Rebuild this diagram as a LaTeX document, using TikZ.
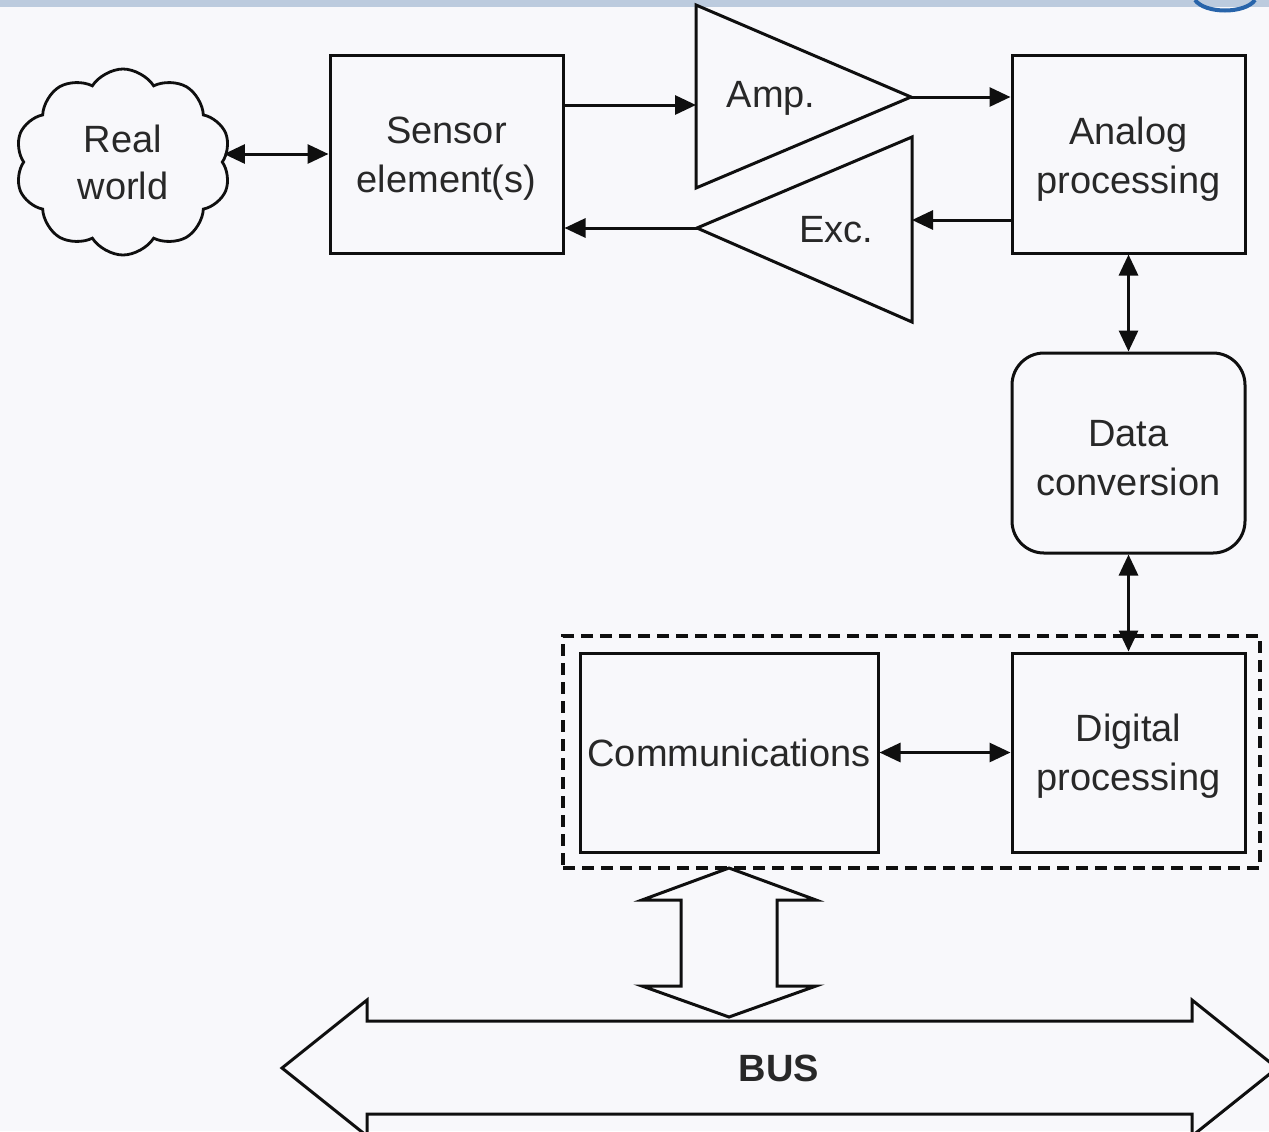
\documentclass[tikz,border=0pt]{standalone}
\usepackage{fontspec}
\setmainfont{Liberation Sans}
\usetikzlibrary{arrows.meta,shapes.symbols,calc}
\definecolor{ink}{RGB}{15,15,15}
\definecolor{txt}{RGB}{40,40,40}
\definecolor{bgc}{RGB}{248,248,251}
\definecolor{stripc}{RGB}{188,203,222}
\definecolor{logoc}{RGB}{40,100,170}
\begin{document}
\begin{tikzpicture}[x=0.5pt,y=-0.5pt,
  >={Triangle[length=10.5pt,width=9.5pt]},
  every node/.style={font=\fontsize{19}{24.5}\selectfont, text=txt, align=center},
  box/.style={draw=ink, line width=1.5pt},
  conn/.style={draw=ink, line width=1.5pt},
  grpbox/.style={draw=ink, line width=1.7pt, dash pattern=on 6pt off 3.5pt},
  shapeline/.style={draw=ink, line width=1.5pt, line join=miter}]
\fill[bgc] (0,0) rectangle (1269,1131);
\useasboundingbox (0,0) rectangle (1269,1131);
\fill[stripc] (0,0) rectangle (1269,7);
\draw[logoc, line width=2pt] (1195,0) .. controls (1205,14) and (1245,14) .. (1255,0);

% boxes
\node[box, minimum width=116.5pt, minimum height=99pt] (sensor) at (446.5,154) {};
\node (sensortext) at (446.5,159) {Sensor\\element(s)};
\node[box, minimum width=116.5pt, minimum height=99pt] (analog) at (1128.5,154) {};
\node (analogtext) at (1128.5,159) {Analog\\processing};
\node[box, rounded corners=16pt, minimum width=116.5pt, minimum height=100pt] (data) at (1128.5,453) {};
\node (datatext) at (1128.5,458) {Data\\conversion};
\node[box, minimum width=116.5pt, minimum height=99.5pt] (digital) at (1128.5,752.5) {};
\node (digitaltext) at (1128.5,756) {Digital\\processing};
\node[box, minimum width=149pt, minimum height=99.5pt, inner sep=0pt] (comm) at (729,752.5) {Communications};
\node[grpbox, minimum width=348.5pt, minimum height=116pt] (group) at (911.5,752) {};
\node[draw=ink, line width=1.4pt, cloud, cloud puffs=10, cloud puff arc=115, minimum width=108pt, minimum height=93pt, inner sep=0pt, font=\fontsize{19}{23.5}\selectfont] (cloud) at (123,162) {Real\\world};

% amplifier and excitation triangles
\draw[shapeline] (696,5) -- (911,97) -- (696,188) -- cycle;
\node (amptext) at (771,98) {Amp.};
\draw[shapeline] (912,137) -- (697,228) -- (912,322) -- cycle;
\node (exctext) at (836,230) {Exc.};
\coordinate (ampin) at (696,105);
\coordinate (ampout) at (911,97);
\coordinate (excin) at (912,220);
\coordinate (excout) at (697,228);

% connectors
\draw[conn,<->] (cloud.east |- sensor.west) -- (sensor.west);
\draw[conn,->] (sensor.east |- ampin) -- (ampin);
\draw[conn,->] (ampout) -- (analog.west |- ampout);
\draw[conn,->] (analog.west |- excin) -- (excin);
\draw[conn,->] (excout) -- (sensor.east |- excout);
\draw[conn,<->] (analog.south) -- (data.north);
\draw[conn,<->] (data.south) -- (digital.north);
\draw[conn,<->] (comm.east) -- (digital.west);

% block arrow to bus
\draw[shapeline] (729,868) -- (816,900) -- (777,900) -- (777,986) -- (816,986)
  -- (729,1017) -- (642,986) -- (681,986) -- (681,900) -- (642,900) -- cycle;

% bus
\draw[shapeline] (282,1068) -- (367,1000) -- (367,1021) -- (1192,1021) -- (1192,1000)
  -- (1277,1068) -- (1192,1136) -- (1192,1114) -- (367,1114) -- (367,1136) -- cycle;
\node[font=\fontsize{19}{23.5}\selectfont\bfseries] (bus) at (779,1068) {BUS};
\end{tikzpicture}
\end{document}
